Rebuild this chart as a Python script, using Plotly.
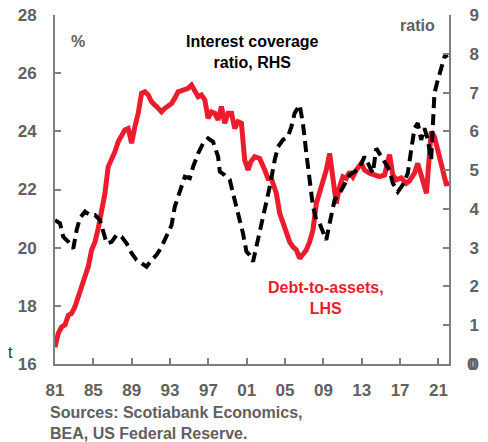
import plotly.graph_objects as go

# Debt-to-assets (LHS, %)
debt_years = [1981.0, 1981.34, 1981.70, 1982.04, 1982.39, 1982.74, 1983.08, 1983.43, 1983.78, 1984.13,
              1984.47, 1984.82, 1985.17, 1985.51, 1985.86, 1986.21, 1986.55, 1986.91, 1987.25, 1987.59,
              1987.95, 1988.29, 1988.64, 1988.99, 1989.33, 1989.68, 1990.03, 1990.38, 1990.72, 1991.07,
              1991.59, 1992.11, 1992.46, 1992.80, 1993.16, 1993.50, 1993.84, 1994.36, 1994.89, 1995.24,
              1995.58, 1995.93, 1996.28, 1996.63, 1996.97, 1997.32, 1997.67, 1998.01, 1998.36, 1998.71,
              1999.05, 1999.41, 1999.75, 2000.09, 2000.45, 2000.79, 2001.14, 2001.42, 2001.83, 2002.35,
              2002.88, 2003.22, 2003.57, 2004.09, 2004.44, 2004.78, 2005.14, 2005.48, 2005.82, 2006.18,
              2006.52, 2006.86, 2007.22, 2007.56, 2007.91, 2008.26, 2008.60, 2008.95, 2009.30, 2009.65,
              2009.99, 2010.34, 2010.69, 2011.03, 2011.39, 2011.73, 2012.07, 2012.43, 2012.95, 2013.29,
              2013.81, 2014.33, 2014.85, 2015.38, 2015.90, 2016.24, 2016.59, 2017.11, 2017.64, 2017.98,
              2018.50, 2018.84, 2019.20, 2019.54, 2019.75, 2020.24, 2020.58, 2021.10, 2021.45, 2021.80,
              2022.10]
debt_to_assets = [16.58, 17.05, 17.28, 17.34, 17.68, 17.74, 17.97, 18.31, 18.60, 18.94,
                  19.35, 19.92, 20.20, 20.66, 21.18, 21.87, 22.78, 23.01, 23.30, 23.64,
                  23.87, 24.05, 24.10, 23.59, 24.16, 24.62, 25.31, 25.36, 25.25, 25.02,
                  24.85, 24.67, 24.79, 24.90, 24.96, 25.14, 25.36, 25.42, 25.48, 25.59,
                  25.42, 25.19, 25.25, 25.08, 24.45, 24.67, 24.62, 24.39, 24.85, 24.28,
                  24.62, 24.62, 24.10, 24.33, 24.28, 23.01, 22.67, 22.95, 23.13, 23.07,
                  22.67, 22.38, 22.38, 21.87, 21.18, 20.84, 20.55, 20.20, 20.03, 19.92,
                  19.63, 19.81, 19.92, 20.20, 20.61, 21.52, 21.87, 22.21, 22.67, 23.24,
                  22.33, 21.52, 22.10, 22.44, 22.38, 22.61, 22.44, 22.67, 22.90, 22.67,
                  22.56, 22.50, 22.44, 22.50, 23.20, 22.50, 22.33, 22.40, 22.21, 22.30,
                  22.56, 22.90, 22.50, 22.10, 21.87, 23.99, 23.81, 23.13, 22.67, 22.20,
                  22.21]

# Interest coverage ratio (RHS)
icr_years = [1981.0, 1981.52, 1981.86, 1982.39, 1982.91, 1983.26, 1983.60, 1984.13, 1984.65, 1985.17,
             1985.69, 1986.03, 1986.39, 1986.91, 1987.43, 1987.95, 1988.47, 1988.99, 1989.51, 1990.03,
             1990.55, 1991.07, 1991.59, 1992.11, 1992.64, 1993.16, 1993.50, 1994.02, 1994.54, 1995.06,
             1995.41, 1995.93, 1996.45, 1996.97, 1997.49, 1998.01, 1998.19, 1998.71, 1999.23, 1999.57,
             2000.09, 2000.61, 2000.97, 2001.31, 2001.66, 2002.01, 2002.35, 2002.88, 2003.40, 2003.92,
             2004.26, 2004.78, 2005.30, 2005.66, 2006.00, 2006.52, 2006.86, 2007.22, 2007.56, 2007.91,
             2008.26, 2008.60, 2008.95, 2009.30, 2009.65, 2010.17, 2010.69, 2011.21, 2011.73, 2012.25,
             2012.77, 2013.29, 2013.81, 2014.16, 2014.51, 2015.03, 2015.38, 2015.90, 2016.24, 2016.76,
             2017.28, 2017.80, 2018.16, 2018.50, 2018.84, 2019.20, 2019.54, 2019.89, 2020.24, 2020.41,
             2020.58, 2020.93, 2021.28, 2021.63, 2021.97]
interest_coverage = [3.71, 3.63, 3.28, 3.15, 2.98, 3.46, 3.76, 3.93, 3.84, 3.84,
                     3.71, 3.37, 3.11, 3.15, 3.33, 3.28, 3.11, 2.86, 2.68, 2.60,
                     2.51, 2.68, 2.81, 3.02, 3.28, 3.58, 4.06, 4.44, 4.83, 4.79,
                     5.09, 5.43, 5.69, 5.82, 5.73, 5.35, 4.96, 4.87, 4.75, 4.40,
                     3.89, 3.37, 2.90, 2.81, 2.64, 3.02, 3.37, 3.97, 4.57, 5.26,
                     5.60, 5.78, 5.86, 6.12, 6.47, 6.68, 6.21, 5.43, 4.66, 4.06,
                     3.71, 3.63, 3.41, 3.20, 3.63, 4.23, 4.40, 4.66, 4.87, 4.96,
                     5.05, 5.35, 5.09, 4.92, 5.56, 5.35, 5.18, 5.00, 4.66, 4.44,
                     4.62, 4.92, 5.52, 6.08, 6.21, 5.78, 6.08, 5.78, 5.26, 6.12,
                     6.98, 7.32, 7.67, 7.92, 7.97]

x_tickvals = [1981, 1985, 1989, 1993, 1997, 2001, 2005, 2009, 2013, 2017, 2021]
x_ticktext = ["81", "85", "89", "93", "97", "01", "05", "09", "13", "17", "21"]
lhs_tickvals = [16, 18, 20, 22, 24, 26, 28]
rhs_tickvals = [0, 1, 2, 3, 4, 5, 6, 7, 8, 9]
rhs_ticktext = ["0", "1", "2", "3", "4", "5", "6", "7", "8", "9"]

RED = "#EC1C2E"
GRAY = "#606060"
AXIS = "#7F7F7F"
FONT = "Liberation Sans, Arial, sans-serif"

fig = go.Figure()
fig.add_trace(go.Scatter(x=debt_years, y=debt_to_assets, mode="lines",
                         line=dict(color=RED, width=5), yaxis="y", showlegend=False))
fig.add_trace(go.Scatter(x=icr_years, y=interest_coverage, mode="lines",
                         line=dict(color="black", width=4, dash="11px,6px"),
                         yaxis="y2", showlegend=False))

axis_font = dict(family=FONT, size=17, color=GRAY, weight="bold")
axis_common = dict(ticks="inside", ticklen=6, tickwidth=2, tickcolor=AXIS,
                   showline=True, linecolor=AXIS, linewidth=2, showgrid=False,
                   zeroline=False, tickfont=axis_font, automargin=False,
                   ticklabeloverflow="allow")

fig.update_layout(
    width=488, height=442,
    margin=dict(l=55, r=39, t=15, b=78),
    paper_bgcolor="white", plot_bgcolor="white",
    font=dict(family=FONT),
    xaxis=dict(range=[1981, 2022.1], tickvals=x_tickvals, ticktext=x_ticktext,
               ticklabelstandoff=10, **axis_common),
    yaxis=dict(range=[16, 28], tickvals=lhs_tickvals, ticklabelstandoff=13, **axis_common),
    yaxis2=dict(range=[0, 9], tickvals=rhs_tickvals, ticktext=rhs_ticktext,
                overlaying="y", side="right", ticklabelstandoff=15, **axis_common),
)

# plotly drops the corner "0" label of the overlaid right axis; place it at y2 = 0
fig.add_annotation(text="<b>" + rhs_ticktext[0] + "</b>", xref="paper", yref="y2",
                   x=1.056, y=rhs_tickvals[0], xanchor="center", yanchor="middle",
                   showarrow=False, font=dict(family=FONT, size=17, color=GRAY))

ann_bold = lambda s: "<b>" + s + "</b>"
common = dict(xref="paper", yref="paper", showarrow=False, xanchor="center", yanchor="middle")
fig.add_annotation(text=ann_bold("%"), x=0.058, y=0.923,
                   font=dict(family=FONT, size=16, color=GRAY), **common)
fig.add_annotation(text=ann_bold("ratio"), x=0.919, y=0.971,
                   font=dict(family=FONT, size=16, color=GRAY), **common)
fig.add_annotation(text=ann_bold("Interest coverage<br>ratio, RHS"), x=0.5, y=0.894,
                   align="center", font=dict(family=FONT, size=16, color="black"), **common)
fig.add_annotation(text=ann_bold("Debt-to-assets,<br>LHS"), x=0.688, y=0.189,
                   align="center", font=dict(family=FONT, size=16, color=RED), **common)
fig.add_annotation(text=ann_bold("Sources: Scotiabank Economics,<br>BEA, US Federal Reserve."),
                   xref="paper", yref="paper", x=-0.018, y=-0.109, xanchor="left", yanchor="top",
                   showarrow=False, align="left",
                   font=dict(family=FONT, size=16, color=GRAY))
fig.add_annotation(text="t", xref="paper", yref="paper", x=-0.125, y=0.034,
                   xanchor="left", yanchor="middle",
                   showarrow=False, font=dict(family=FONT, size=16, color="#333333"))

# remove the browser's default 8px body margin so the figure sits at the page origin
fig.write_html("out.html", config={"displayModeBar": False},
               post_script="document.body.style.margin='0';")
